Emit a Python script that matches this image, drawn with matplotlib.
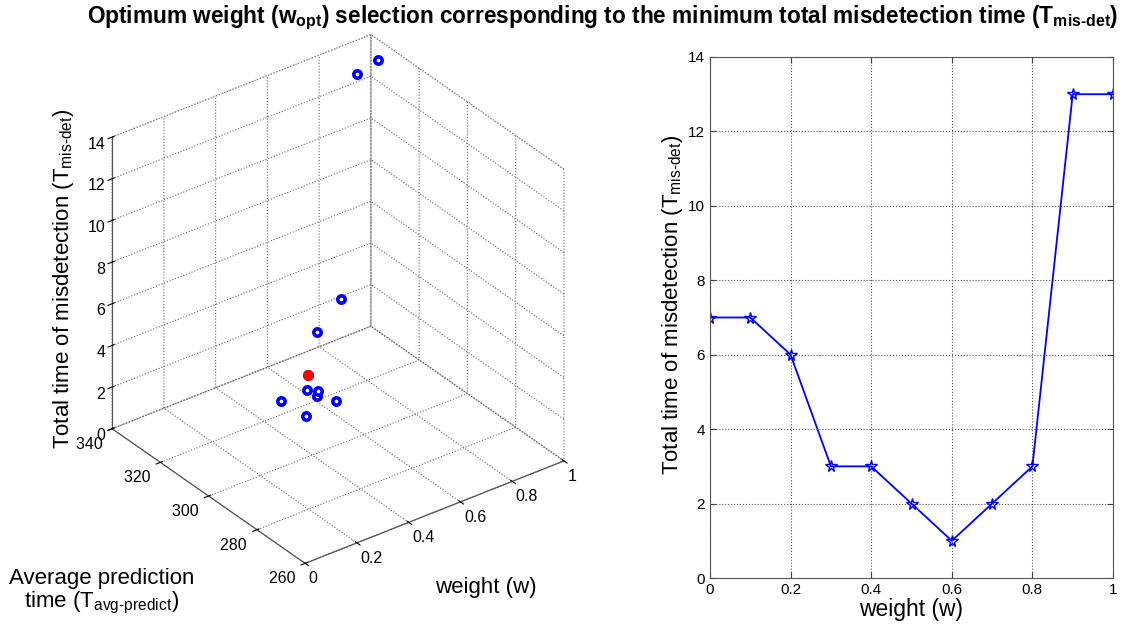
import matplotlib
matplotlib.use("Agg")
import matplotlib.pyplot as plt
import numpy as np
from matplotlib.ticker import FuncFormatter

plt.rcParams['font.family'] = ['Liberation Sans', 'DejaVu Sans']
plt.rcParams['mathtext.fontset'] = 'custom'
plt.rcParams['mathtext.rm'] = 'Liberation Sans'
plt.rcParams['mathtext.it'] = 'Liberation Sans:italic'
plt.rcParams['mathtext.bf'] = 'Liberation Sans:bold'
plt.rcParams['grid.linestyle'] = ':'
plt.rcParams['grid.color'] = '#666666'
plt.rcParams['grid.linewidth'] = 0.8

# ---- data ----
weights = [0.0, 0.1, 0.2, 0.3, 0.4, 0.5, 0.6, 0.7, 0.8, 0.9, 1.0]
t_misdet = [7, 7, 6, 3, 3, 2, 1, 2, 3, 13, 13]
t_avg_predict = [270, 270, 276, 292, 298, 301, 323, 330, 331, 335, 337]
opt_index = 6

w_ticks = [0, 0.2, 0.4, 0.6, 0.8, 1.0]
p_ticks = [260, 280, 300, 320, 340]
z_ticks = [0, 2, 4, 6, 8, 10, 12, 14]

fmt = FuncFormatter(lambda v, p: '%g' % v)
fmt_pred = FuncFormatter(lambda v, p: '%g ' % v)

fig = plt.figure(figsize=(11.27, 6.27), dpi=100)
W, H = 1127, 627

# ---- left 3D panel ----
size = 520
cx, cy = 331, 306
ax3 = fig.add_axes([(cx - size / 2) / W, 1 - (cy + size / 2) / H, size / W, size / H],
                   projection='3d', computed_zorder=False)
ax3.set_proj_type('ortho')
ax3.view_init(elev=31.7, azim=-127)
ax3.set_box_aspect((1.0, 0.99, 1.058), zoom=1.065)
ax3.scatter(weights, t_avg_predict, t_misdet, marker='o', s=28, facecolors='white',
            edgecolors='blue', linewidths=2.6, depthshade=False, zorder=3)
ax3.scatter([weights[opt_index]], [t_avg_predict[opt_index]], [t_misdet[opt_index]],
            marker='o', s=48, color='red', edgecolors='red', linewidths=1,
            depthshade=False, zorder=4)
ax3.set_xlim(0, 1)
ax3.set_ylim(260, 340)
ax3.set_zlim(0, 14)
ax3.set_xticks(w_ticks)
ax3.set_yticks(p_ticks)
ax3.set_zticks(z_ticks)
ax3.xaxis.set_major_formatter(fmt)
ax3.yaxis.set_major_formatter(fmt_pred)
ax3.zaxis.set_major_formatter(fmt)
for axis in (ax3.xaxis, ax3.yaxis, ax3.zaxis):
    axis.pane.set_facecolor((1, 1, 1, 0))
    axis.pane.set_edgecolor('#888888')
    axis.pane.set_linestyle(':')
    axis.line.set_color('#555555')
    axis.line.set_linewidth(0.9)
ax3.tick_params(labelsize=11.5)
ax3.tick_params(axis='x', pad=-4.5)
ax3.tick_params(axis='y', pad=-4)
ax3.tick_params(axis='z', pad=-5)
ax3.grid(True)
for t in ax3.xaxis.get_major_ticks():
    t.label1.set_horizontalalignment('left')
for t in ax3.yaxis.get_major_ticks():
    t.label1.set_horizontalalignment('right')
for t in ax3.zaxis.get_major_ticks():
    t.label1.set_horizontalalignment('right')

fig.text(64 / W, 1 - 279 / H, 'Total time of misdetection (T$_{\\mathrm{mis\u2010det}}$)',
         rotation=90, ha='center', va='center', fontsize=16)
fig.text(486 / W, 1 - 587 / H, 'weight (w)', ha='center', va='center', fontsize=16)
fig.text(102 / W, 1 - 592 / H, 'Average prediction\ntime (T$_{\\mathrm{avg\u2010predict}}$)',
         ha='center', va='center', fontsize=16, linespacing=1.0)

# ---- right 2D panel ----
ax2 = fig.add_axes([710 / W, 1 - 578 / H, 403 / W, 521 / H])
ax2.plot(weights, t_misdet, '-', color='blue', linewidth=1.3, marker='*',
         markersize=8.5, markerfacecolor='none', markeredgecolor='blue', markeredgewidth=1.0)
ax2.set_xlim(0, 1)
ax2.set_ylim(0, 14)
ax2.set_xticks(w_ticks)
ax2.set_yticks(z_ticks)
ax2.xaxis.set_major_formatter(fmt)
ax2.yaxis.set_major_formatter(fmt)
ax2.grid(True, linestyle=':', color='#555555', linewidth=0.8)
ax2.tick_params(direction='in', top=True, right=True, labelsize=11, length=4, color='#444444')
for s in ax2.spines.values():
    s.set_color('#555555')
ax2.set_xlabel('weight (w)', fontsize=16.5, labelpad=1)
ax2.set_ylabel('Total time of misdetection (T$_{\\mathrm{mis\u2010det}}$)', fontsize=16)
ax2.yaxis.set_label_coords(-25 / 403, 0.525)

fig.text(603 / W, 1 - 18 / H,
         'Optimum weight (w$_{\\mathbf{opt}}$) selection corresponding to the minimum total misdetection time (T$_{\\mathbf{mis\u2010det}}$)',
         ha='center', va='center', fontsize=16.3, fontweight='bold')

fig.savefig('out.png', dpi=100)
